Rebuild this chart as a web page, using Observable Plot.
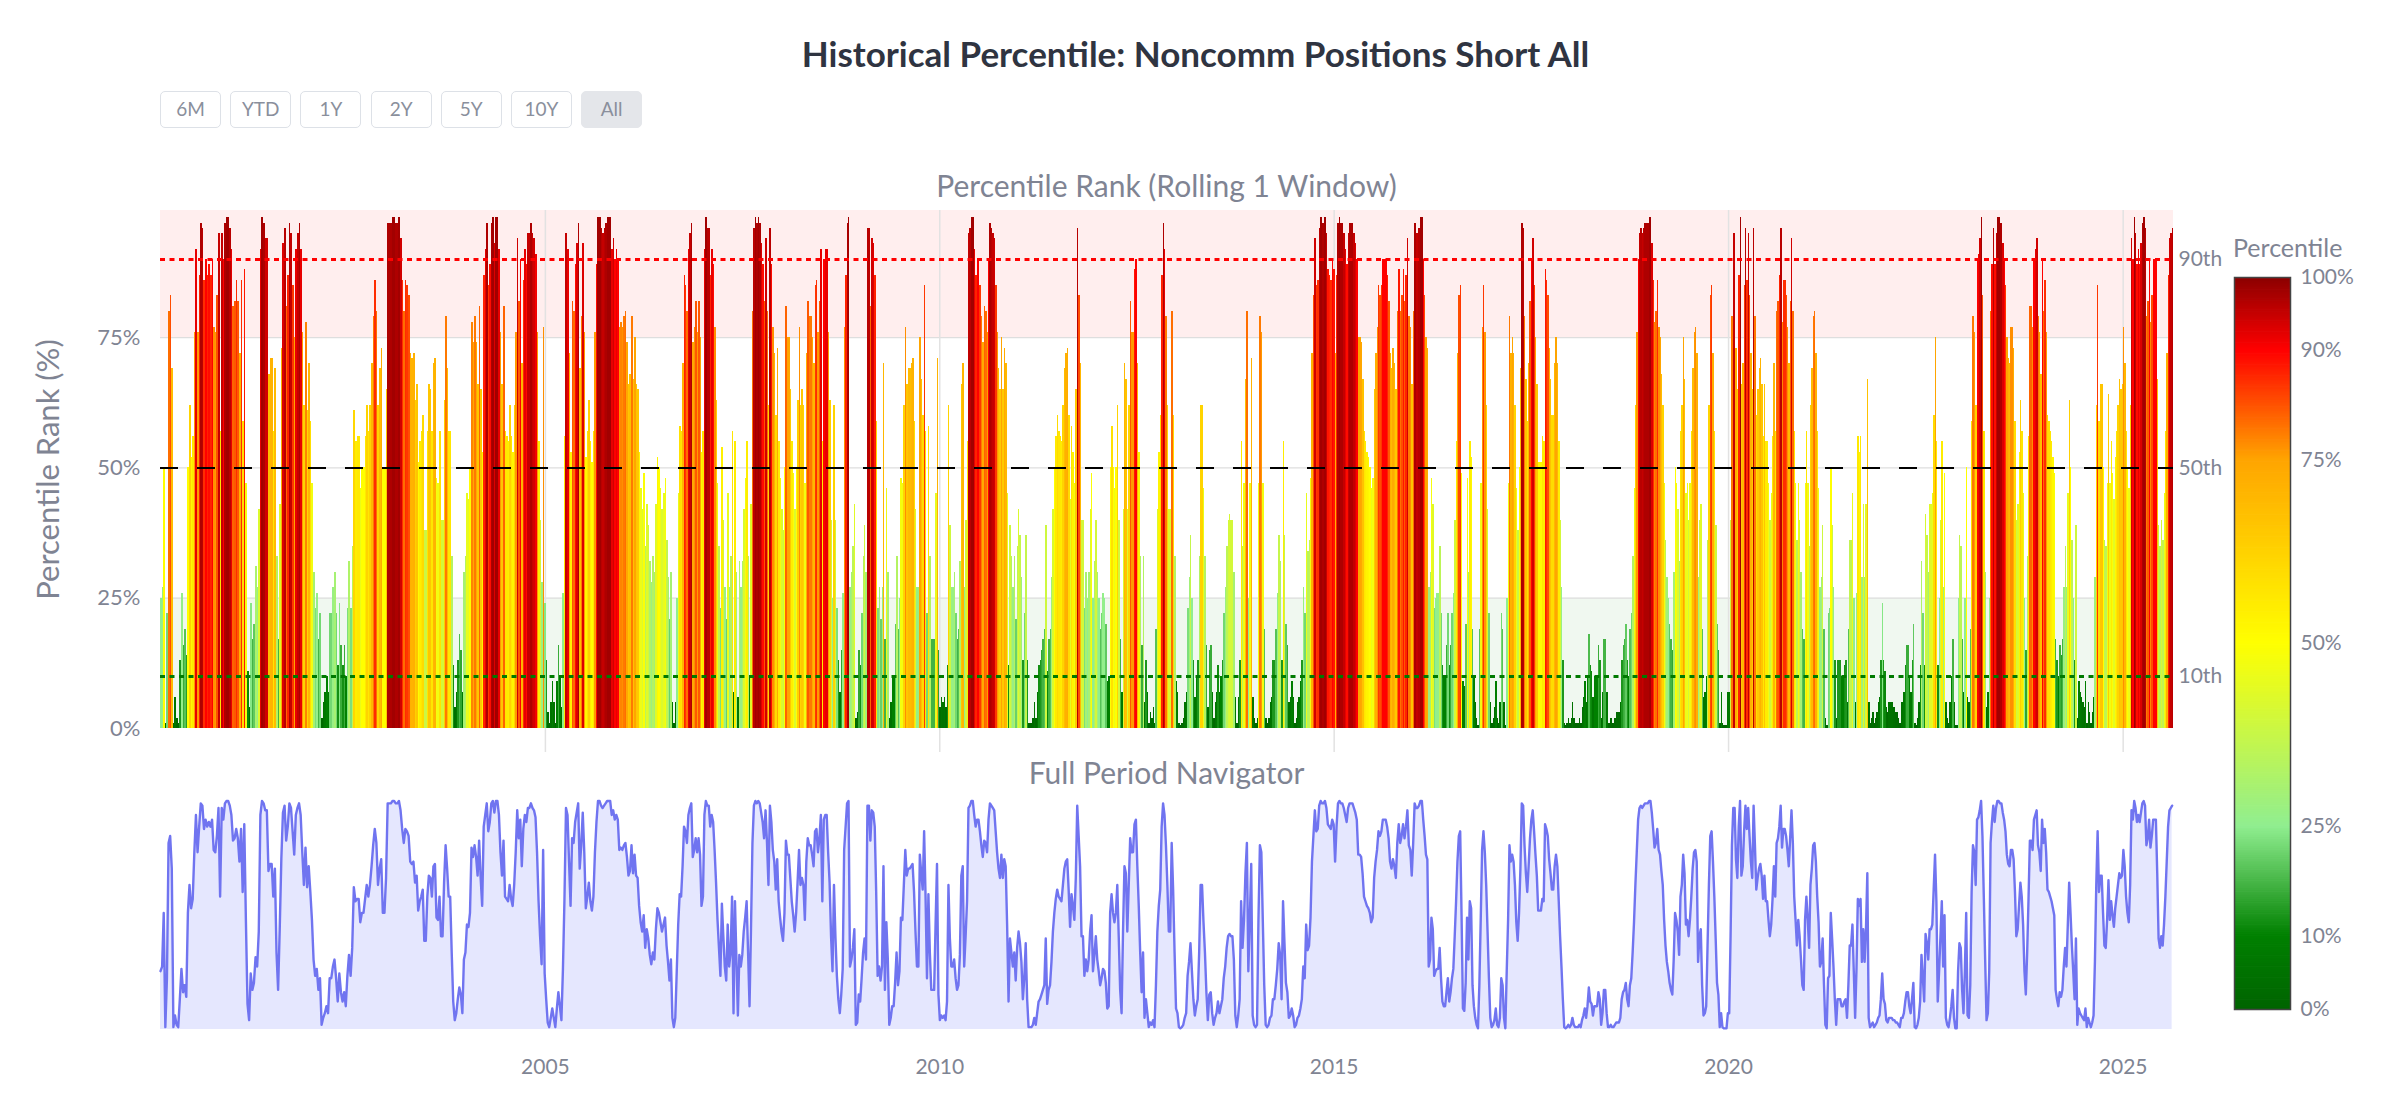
<!DOCTYPE html>
<html><head><meta charset="utf-8">
<script src="https://cdn.jsdelivr.net/npm/d3@7"></script>
<script src="https://cdn.jsdelivr.net/npm/@observablehq/plot@0.6"></script>
<style>
body{margin:0;background:#fff;font-family:Lato,"Noto Sans",sans-serif;}
#page{position:relative;width:2391px;height:1094px;overflow:hidden;background:#fff;}
.abs{position:absolute;}
#title{left:0;width:2391px;top:32px;text-align:center;font-weight:700;font-size:35px;color:#2f3441;line-height:42px;}
.sub{width:2013px;left:160px;text-align:center;font-size:30px;color:#7f8493;line-height:36px;}
.btn{top:91px;width:61px;height:37px;box-sizing:border-box;border:1.5px solid #dde1e7;border-radius:5px;background:#fff;color:#8a8f9c;font-size:19px;line-height:34px;text-align:center;}
.btn.on{background:#e4e6ea;border-color:#e4e6ea;}
#cbtitle{left:2233px;top:230px;font-size:25px;color:#7f8493;line-height:34px;}
svg{overflow:visible;}
</style></head>
<body><div id="page"></div>
<script>
// ---------------- data ----------------
const chartTitle = "Historical Percentile: Noncomm Positions Short All";
const mainTitle = "Percentile Rank (Rolling 1 Window)";
const navTitle = "Full Period Navigator";
const yAxisTitle = "Percentile Rank (%)";
const colorbarTitle = "Percentile";
const rangeButtons = ["6M","YTD","1Y","2Y","5Y","10Y","All"];
const yTicks = [0,25,50,75];
const yearTicks = [2005,2010,2015,2020,2025];
const refLevels = [90,50,10];
const refLabels = ["90th","50th","10th"];
const colorStops = [0,10,25,50,75,90,100];
const colorRange = ["#006400","#008000","#90ee90","#ffff00","#ffa500","#ff0000","#8b0000"];
const colorbarTicks = [0,10,25,50,75,90,100];

// weekly readings, grouped in consecutive date segments
const segmentBounds = ["2000-02-15","2003-05-16","2006-07-16","2009-09-24","2012-12-03","2016-02-11","2019-04-22","2022-07-01","2025-08-22"];
const seg1 = [25,27,50,1,22,80,83,69,1,6,2,1,13,26,16,19,14,50,62,52,56,76,92,76,87,97,96,86,90,87,89,87,90,77,76,83,95,57,95,90,97,98,98,96,92,81,82,86,82,72,86,59,88,47,11,4,24,17,20,31,27,42,92,98,97,94,94,68,71,71,57,69,33,17,43,73,93,96,81,87,97,95,85,75,92,95,97,92,76,62,78,61,70,59,47,30,23,26,17,22,2,5,7,10,7,22,22,27,30,22,12,24,16,12,16,10,23,32,23,35,61,55,56,56,46,50,50,56,62,57,62,70,79,86,80,62,69,73,50,50,65,97,97,97,98,98,97,97,98,94,86,80,86,85,83,72,71,72,63];
const seg2 = [66,51,55,57,60,38,38,57,66,65,57,70,71,48,47,57,40,40,63,79,69,57,57,33,12,4,7,13,18,15,7,30,33,45,44,50,78,74,79,74,66,81,65,53,87,92,97,85,89,97,98,93,98,98,92,76,66,81,57,56,55,62,56,53,62,76,94,82,90,70,86,92,89,95,95,97,95,94,91,76,55,40,28,77,24,13,3,1,5,9,5,1,9,16,10,4,26,56,95,92,72,53,82,80,89,93,97,69,79,93,76,52,57,63,55,51,57,76,89,98,98,96,95,96,97,98,98,98,92,94,90,92,90,77,78,77,79,80,74,66,68,79,67,75,66,65,53,46,42,49,35,43,39,32,28,33,30,43,52,50,46,42,45,48];
const seg3 = [36,29,21,30,5,1,5,25,45,58,57,70,87,85,80,92,95,97,74,77,82,76,82,75,53,57,92,98,96,96,87,92,89,77,63,47,35,23,54,40,27,21,45,27,33,57,7,55,30,6,32,27,32,42,48,55,33,10,43,80,96,98,97,98,97,93,89,82,94,80,62,96,89,77,72,60,73,55,48,42,38,50,81,75,75,65,55,49,42,50,63,77,62,65,62,47,72,82,79,79,75,70,85,86,76,82,92,55,90,92,92,76,63,40,25,62,40,23,13,7,15,26,77,87,97,98,27,30,35,43,2,3,15,12,22,33,39,30,96,96,81,94,93,87,59,23,27,21,27,70,17,46,30,2,5,10,10,20,33,19,25,48,47,62,77,66,69,69,70,71,59,42,27];
const seg4 = [27,75,67,60,85,57,22,58,33,17,17,17,45,71,15,4,6,5,6,4,12,62,39,27,27,30,22,17,19,32,66,70,27,40,55,95,96,98,98,92,87,90,90,85,79,74,81,80,76,90,97,96,95,94,85,76,69,65,75,65,73,70,45,12,39,33,27,33,21,35,42,37,29,13,22,37,13,1,1,1,2,5,2,7,12,13,15,17,19,39,11,17,19,29,42,50,56,60,57,56,55,62,69,72,73,60,44,58,53,47,65,96,83,70,40,40,23,30,25,30,42,49,25,32,40,30,25,19,22,26,25,20,9,10,50,58,50,46,50,62,40,17,7,42,70,67,42,62,82,76,76,88,90,70,53,33,16,33,5,13,7,1,3,2,4,1,19,42,53,60,87,97,92,79,62,42];
const seg5 = [42,80,60,33,9,7,1,0.5,1,2,5,7,23,29,37,25,13,6,10,13,33,62,62,46,33,16,4,15,16,7,2,5,7,12,7,10,13,22,27,35,40,41,40,40,30,6,1,6,13,55,35,47,67,80,25,47,71,6,2,1,2,47,79,76,47,19,2,1,2,5,6,13,13,19,26,37,32,13,55,37,20,16,5,6,9,6,1,2,5,6,9,13,27,22,45,34,36,48,72,83,94,85,86,96,98,97,97,98,95,88,87,86,90,88,72,87,97,98,97,97,95,92,89,95,97,97,97,95,93,90,75,75,74,67,57,55,53,52,50,46,48,65,72,77,85,83,85,90,90,90,87,82,72,69,73,70,65,80,88,80,83,88,82,87,94,79,77,66,80,97,95,95,96,98];
const seg6 = [98,90,83,75,73,27,30,48,43,23,25,26,26,35,22,12,10,10,16,22,12,16,22,26,40,55,72,83,85,49,9,8,20,48,30,55,52,19,10,5,2,0.5,19,47,77,85,76,62,42,22,5,1,2,4,9,2,1,5,22,19,5,0.5,25,47,79,72,75,72,62,46,38,50,69,97,96,79,67,59,70,82,90,94,85,75,66,51,51,51,56,55,88,86,83,73,67,60,60,70,75,70,55,40,27,13,1,0.5,1,2,1,2,5,2,1,1,1,2,1,4,6,9,5,10,18,12,11,6,10,10,10,16,13,2,7,17,17,7,1,1,2,1,1,2,3,3,3,5,13,16,17,20,13,10,19,22,33,46,62,76,90,95,96,95,96,97,97,97,98,98,93,86,78,80,86,77,75,68,62,47,36,29,25,20,17,15];
const seg7 = [30,50,47,42,32,57,62,75,67,45,47,40,47,57,69,76,77,72,29,40,43,19,6,7,10,36,62,83,85,72,57,39,20,15,1,7,1,0.5,0.5,0.5,7,7,40,79,95,95,73,65,87,98,66,70,85,96,86,95,83,72,65,96,79,60,65,69,71,66,56,66,55,55,47,40,45,56,70,57,80,82,87,96,78,86,86,83,77,70,82,94,80,57,47,36,47,40,30,19,17,47,57,47,35,62,69,79,80,72,57,46,27,29,39,19,2,0.5,22,23,50,39,27,13,2,13,13,13,10,10,12,13,5,19,36,36,45,25,5,26,56,53,56,29,43,29,43,67,5,1,2,3,1,2,3,5,6,13,24,13,11,4,3,5,5,5,4,4,3,3,2,1,5,5,7,12,16,16,10,7,13,20,1,0.5,2,5,12,32,22,12];
const seg8 = [41,37,30,43,43,45,60,75,55,12,25,40,55,27,49,5,2,1,5,10,17,5,0.5,0.5,25,37,35,17,7,25,50,6,5,19,59,79,76,62,90,91,94,98,83,57,30,4,7,25,80,89,96,89,95,98,98,97,97,93,90,85,75,71,70,77,77,73,59,40,43,53,63,57,45,25,15,33,56,81,81,77,90,92,94,79,76,68,90,80,86,76,60,59,57,55,52,49,17,13,10,16,14,17,27,35,27,45,63,50,36,25,13,39,2,9,7,6,5,4,9,1,5,3,1,3,6,29,62,85,59,66,66,50,36,35,47,64,47,55,49,44,52,57,62,67,65,66,77,70,57,50,46,62,94,90,98,95,89,92,89,93,97,98,96,79,82,90,78,83,90,90,90,67,39,35,40,36,45,57,72,87,94,95,96];

// ---------------- build table ----------------
const segments = [seg1,seg2,seg3,seg4,seg5,seg6,seg7,seg8];
const data = [];
segments.forEach((vals,k)=>{
  const t0 = new Date(segmentBounds[k]).getTime();
  const t1 = new Date(segmentBounds[k+1]).getTime();
  const step = (t1-t0)/vals.length;
  vals.forEach((v,i)=>data.push({d1:new Date(t0+i*step), d2:new Date(t0+(i+1)*step), v}));
});
const xDomain = [new Date(segmentBounds[0]), new Date(segmentBounds[segmentBounds.length-1])];
const yearDates = yearTicks.map(y=>new Date(Date.UTC(y,0,1)));
const yMax = 99.4;
const grey = "#7f8493";
const font = "Lato, 'Noto Sans', sans-serif";
const colorScale = {type:"linear", domain:colorStops, range:colorRange, interpolate:"rgb"};

const page = document.getElementById("page");
function addDiv(cls, text, style){
  const d = document.createElement("div");
  d.className = "abs " + cls; d.textContent = text;
  Object.assign(d.style, style||{}); page.appendChild(d); return d;
}
addDiv("", chartTitle).id = "title";
rangeButtons.forEach((b,i)=>addDiv("btn"+(b==="All"?" on":""), b, {left:(160+i*70.2)+"px"}));
addDiv("sub", mainTitle, {top:"167px"});
addDiv("sub", navTitle, {top:"754px"});
addDiv("", colorbarTitle).id = "cbtitle";

function place(svg, left, top){
  svg.style.position = "absolute"; svg.style.left = left+"px"; svg.style.top = top+"px";
  page.appendChild(svg);
}

// ---------------- main chart ----------------
const main = Plot.plot({
  width:2391, height:560, marginLeft:160, marginRight:218, marginTop:10, marginBottom:32,
  style:{fontFamily:font, fontSize:"22px", color:grey, background:"transparent", overflow:"visible"},
  x:{type:"utc", domain:xDomain},
  y:{domain:[0,yMax]},
  color:colorScale,
  marks:[
    Plot.rect([{a:75,b:yMax}], {y1:"a", y2:"b", fill:"#ff0000", fillOpacity:0.065}),
    Plot.rect([{a:0,b:25}], {y1:"a", y2:"b", fill:"#008000", fillOpacity:0.06}),
    Plot.gridY({ticks:[25,50,75], stroke:"#dedede", strokeOpacity:1, strokeWidth:1.2}),
    Plot.gridX({ticks:yearDates, stroke:"#e2e2e2", strokeOpacity:1, strokeWidth:1.5}),
    Plot.axisX({ticks:yearDates, tickSize:24, tickFormat:()=>"", stroke:"#e2e2e2", strokeWidth:1.5}),
    Plot.rect(data, {x1:"d1", x2:"d2", y1:0, y2:"v", fill:"v", shapeRendering:"crispEdges"}),
    Plot.ruleY([90], {stroke:"#ff0000", strokeWidth:3, strokeDasharray:"5,4.5"}),
    Plot.ruleY([50], {stroke:"#000000", strokeWidth:2, strokeDasharray:"18,19"}),
    Plot.ruleY([10], {stroke:"#007a00", strokeWidth:3, strokeDasharray:"5,4.5"}),
    Plot.axisY({ticks:yTicks, tickSize:0, tickPadding:20, tickFormat:d=>d+"%", label:null, fontSize:22}),
    Plot.text(refLevels, {y:d=>d, text:(d,i)=>refLabels[i], frameAnchor:"right", textAnchor:"start", dx:5, fontSize:21, fill:grey}),
    Plot.text([yAxisTitle], {frameAnchor:"left", textAnchor:"middle", rotate:-90, dx:-111, fontSize:31, fill:grey})
  ]
});
place(main, 0, 200);

// ---------------- navigator ----------------
const nav = Plot.plot({
  width:2391, height:349, marginLeft:160, marginRight:218, marginTop:52, marginBottom:65,
  style:{fontFamily:font, fontSize:"21px", color:grey, background:"transparent", overflow:"visible"},
  x:{type:"utc", domain:xDomain},
  y:{domain:[0,99.5], axis:null},
  marks:[
    Plot.areaY(data, {x:"d1", y:"v", fill:"#636efa", fillOpacity:0.17}),
    Plot.lineY(data, {x:"d1", y:"v", stroke:"#7074f0", strokeWidth:2.4}),
    Plot.axisX({ticks:yearDates, tickSize:0, tickPadding:30, tickFormat:d3.utcFormat("%Y"), label:null, fontSize:21})
  ]
});
place(nav, 0, 745);

// ---------------- colorbar ----------------
const cbStops = d3.range(0,100,0.25);
const cb = Plot.plot({
  width:191, height:820, marginLeft:34, marginRight:101, marginTop:47, marginBottom:41,
  style:{fontFamily:font, fontSize:"21px", color:grey, background:"transparent", overflow:"visible"},
  y:{domain:[0,100]},
  color:colorScale,
  marks:[
    Plot.rect(cbStops, {y1:d=>d, y2:d=>Math.min(100,d+0.35), fill:d=>d+0.125}),
    Plot.frame({stroke:"#444", strokeWidth:1.5}),
    Plot.axisY({anchor:"right", ticks:colorbarTicks, tickSize:0, tickPadding:10, tickFormat:d=>d+"%", label:null, fontSize:21})
  ]
});
place(cb, 2200, 230);
</script>
</body></html>
